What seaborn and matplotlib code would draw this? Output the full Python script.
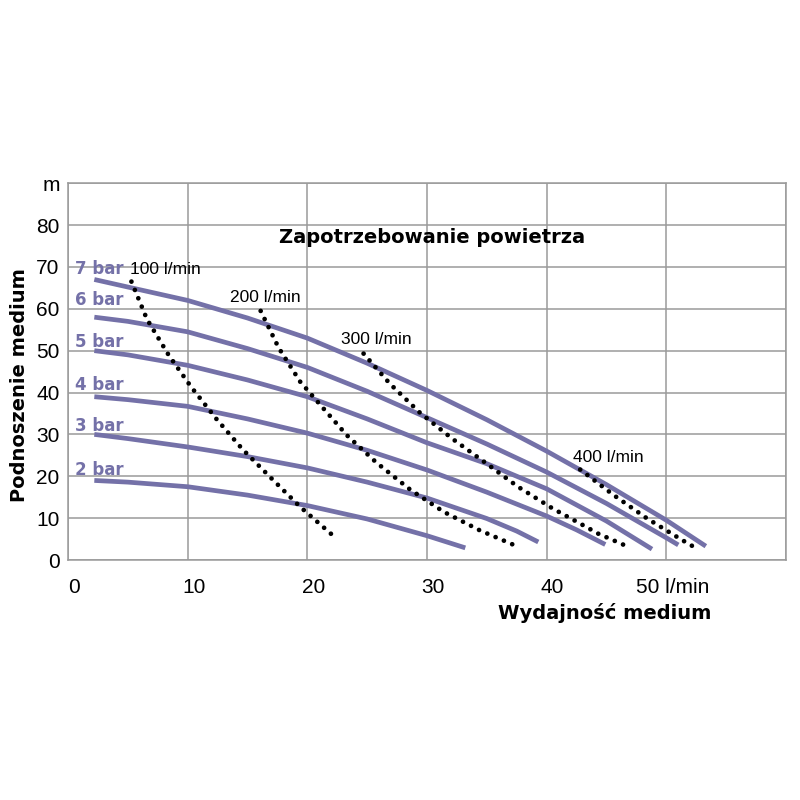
'''
Pump performance chart: head vs flow at several air pressures,
with dotted air-consumption lines
'''

import pandas as pd
import matplotlib
matplotlib.use('Agg')
import matplotlib.pyplot as plt
import matplotlib.transforms as mtransforms
import seaborn as sns

# --------------------------------------------------
# Data
# --------------------------------------------------

# pump curves (flow l/min, head m) per air pressure
flow_2bar = [2.2, 5, 10, 15, 20, 25, 30, 33.2]
head_2bar = [19, 18.6, 17.5, 15.5, 13, 9.8, 5.8, 2.9]
flow_3bar = [2.2, 5, 10, 15, 20, 25, 30, 35, 37.5, 39.3]
head_3bar = [30, 29, 27, 24.7, 22, 18.6, 14.8, 9.9, 6.9, 4.3]
flow_4bar = [2.2, 5, 10, 15, 20, 25, 30, 35, 40, 42.5, 44.9]
head_4bar = [39, 38.3, 36.7, 33.7, 30.3, 26.2, 21.5, 16.2, 10.5, 7.2, 3.7]
flow_5bar = [2.2, 5, 10, 15, 20, 25, 30, 35, 40, 45, 48.8]
head_5bar = [50, 49, 46.5, 43, 39, 33.7, 28, 23, 17, 9.3, 2.6]
flow_6bar = [2.2, 5, 10, 15, 20, 25, 30, 35, 40, 45, 50, 51]
head_6bar = [58, 57, 54.5, 50.5, 46, 40.3, 34, 27.7, 21, 13.5, 5.3, 3.6]
flow_7bar = [2.2, 5, 10, 15, 20, 25, 30, 35, 40, 45, 50, 53.3]
head_7bar = [67, 65.2, 62, 57.8, 53, 47, 40.5, 33.5, 26, 18, 9.5, 3.3]

bar_labels = ['2 bar', '3 bar', '4 bar', '5 bar', '6 bar', '7 bar']
bar_label_y = [21.5, 32, 41.7, 52, 62, 69.5]

# air consumption lines
flow_100 = [5.3, 6.6, 8.4, 10.3, 12.4, 14.6, 17, 19.4, 22]
head_100 = [66.5, 57.5, 49, 41.3, 33.7, 26.4, 19.5, 12.7, 6.2]
flow_200 = [16.1, 17.6, 19.4, 21.1, 23.3, 25.8, 28.6, 31.4, 34.4, 37.5]
head_200 = [59.5, 50.7, 42.6, 37, 29.8, 23.2, 16.8, 11.5, 7.1, 3.3]
flow_300 = [24.7, 26.9, 29.4, 32.1, 34.8, 37.6, 40.5, 42.8, 44.3, 46.7]
head_300 = [49.3, 42.1, 35.2, 29, 23.4, 17.5, 12.3, 8.7, 6.3, 3.3]
flow_400 = [42.8, 45.6, 48.4, 51.3, 52.5]
head_400 = [21.6, 15.5, 9.9, 4.8, 2.8]

air_labels = ['100 l/min', '200 l/min', '300 l/min', '400 l/min']
air_label_xy = [(5.2, 69.5), (13.5, 62.6), (22.8, 52.6), (42.2, 24.5)]

x_ticks = [0, 10, 20, 30, 40, 50]
x_ticklabels = ['0', '10', '20', '30', '40', '50 l/min']
y_ticks = [0, 10, 20, 30, 40, 50, 60, 70, 80, 90]
y_ticklabels = ['0', '10', '20', '30', '40', '50', '60', '70', '80', 'm']

# --------------------------------------------------
# Plot
# --------------------------------------------------

sns.set_style('white')
plt.rcParams['font.family'] = ['Liberation Sans', 'DejaVu Sans']
plt.rcParams['text.color'] = 'black'
plt.rcParams['axes.labelcolor'] = 'black'

purple = '#7471a8'
grid_grey = '#9a9a9a'

fig = plt.figure(figsize=(8, 8), dpi=100)
ax = fig.add_axes([0.085, 0.3, 0.8975, 0.471])

pump_curves = [(flow_2bar, head_2bar), (flow_3bar, head_3bar), (flow_4bar, head_4bar),
               (flow_5bar, head_5bar), (flow_6bar, head_6bar), (flow_7bar, head_7bar)]
for (fx, hy), label, ly in zip(pump_curves, bar_labels, bar_label_y):
    df = pd.DataFrame({'flow': fx, 'head': hy})
    sns.lineplot(data=df, x='flow', y='head', sort=False, estimator=None,
                 color=purple, linewidth=3.4, solid_capstyle='butt',
                 solid_joinstyle='round', ax=ax, zorder=3)
    ax.text(0.6, ly, label, color=purple, fontsize=12, fontweight='bold',
            family='DejaVu Sans', ha='left', va='center', zorder=4)

air_curves = [(flow_100, head_100), (flow_200, head_200), (flow_300, head_300), (flow_400, head_400)]
for (fx, hy), label, (lx, ly) in zip(air_curves, air_labels, air_label_xy):
    df = pd.DataFrame({'flow': fx, 'head': hy})
    sns.lineplot(data=df, x='flow', y='head', sort=False, estimator=None,
                 color='black', linewidth=3.4, linestyle=(0, (0.01, 1.9)),
                 dash_capstyle='round', ax=ax, zorder=4)
    ax.text(lx, ly, label, color='black', fontsize=12.5, ha='left', va='center', zorder=5)

# title inside the plot
ax.text(30.4, 77, 'Zapotrzebowanie powietrza', fontsize=14, fontweight='bold',
        family='DejaVu Sans', ha='center', va='center')

# axes, grid and ticks
ax.set_xlim(0, 60)
ax.set_ylim(0, 90)
ax.set_xticks(x_ticks)
ax.set_xticklabels(x_ticklabels)
ax.set_yticks(y_ticks)
ax.set_yticklabels(y_ticklabels)
ax.set_xticks([60], minor=True)
ax.grid(True, which='both', color=grid_grey, linewidth=1.1)
ax.set_axisbelow(True)
ax.tick_params(axis='both', which='both', length=0, labelsize=15, colors='black')
ax.tick_params(axis='x', pad=13)
ax.tick_params(axis='y', pad=6)
for lab in ax.get_xticklabels():
    lab.set_transform(lab.get_transform() + mtransforms.ScaledTranslation(6 / 100, 0, fig.dpi_scale_trans))

for spine in ax.spines.values():
    spine.set_color(grid_grey)
    spine.set_linewidth(1.1)

ax.set_xlabel('Wydajność medium', fontsize=14, fontweight='bold', family='DejaVu Sans')
ax.xaxis.set_label_coords(0.747, -0.14)
ax.xaxis.label.set_va('center')
ax.set_ylabel('Podnoszenie medium', fontsize=14, fontweight='bold', family='DejaVu Sans')
ax.yaxis.set_label_coords(-0.067, 0.464)
ax.yaxis.label.set_va('center')

fig.savefig('out.png', dpi=100, facecolor='white')
